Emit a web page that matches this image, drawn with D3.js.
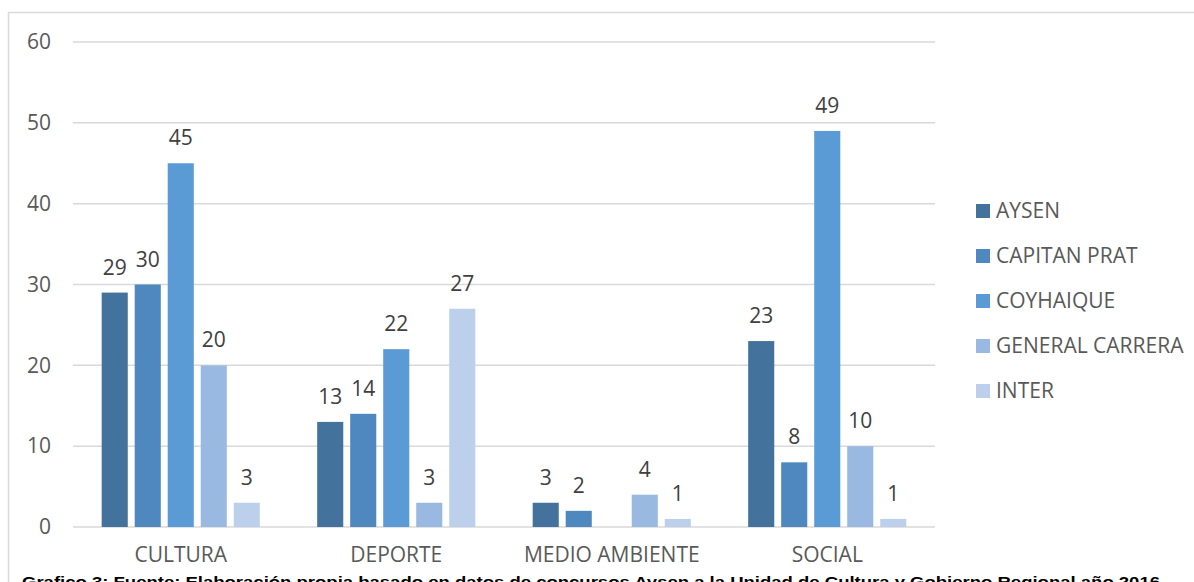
<!DOCTYPE html>
<html><head><meta charset="utf-8">
<script src="https://cdn.jsdelivr.net/npm/d3@7"></script>
<style>html,body{margin:0;padding:0;background:#fff;overflow:hidden}</style>
</head><body>
<svg id="c" width="1194" height="582"></svg>
<script>
const categories = ["CULTURA", "DEPORTE", "MEDIO AMBIENTE", "SOCIAL"];
const seriesNames = ["AYSEN", "CAPITAN PRAT", "COYHAIQUE", "GENERAL CARRERA", "INTER"];
const aysen = [29, 13, 3, 23];
const capitanPrat = [30, 14, 2, 8];
const coyhaique = [45, 22, 0, 49];
const generalCarrera = [20, 3, 4, 10];
const inter = [3, 27, 1, 1];
const yTicks = [0, 10, 20, 30, 40, 50, 60];
const caption = "Grafico 3: Fuente: Elaboración propia basado en datos de concursos Aysen a la Unidad de Cultura y Gobierno Regional año 2016";

const seriesValues = [aysen, capitanPrat, coyhaique, generalCarrera, inter];
const colors = ["#43729D", "#4E88BE", "#5B9BD5", "#9AB9E0", "#BDD0EB"];

const svg = d3.select("#c");
const font = "'Open Sans', sans-serif";
const fs = 21;

// border
svg.append("path").attr("d", "M8.5,582 V12.5 H1194").attr("fill", "none").attr("stroke", "#d9d9d9").attr("stroke-width", 1.5);

const x0 = d3.scaleBand().domain(categories).range([73, 935]).paddingInner(0.234).paddingOuter(0.117);
const x1 = d3.scaleBand().domain(seriesNames).range([0, x0.bandwidth()]).paddingInner(0.21).paddingOuter(0.105);
const y = d3.scaleLinear().domain([0, 60]).range([527, 42]);

// gridlines
svg.append("g").selectAll("line").data(yTicks).join("line")
  .attr("x1", 73).attr("x2", 935)
  .attr("y1", d => y(d)).attr("y2", d => y(d))
  .attr("stroke", "#d9d9d9").attr("stroke-width", 1.5);

// y axis labels
const yAxis = d3.axisLeft(y).tickValues(yTicks).tickSize(0).tickPadding(0);
const ya = svg.append("g").attr("transform", "translate(51,0)").call(yAxis);
ya.select(".domain").remove();
ya.selectAll("text").attr("font-family", font).attr("font-size", fs).attr("fill", "#595959");

// x axis labels
const xAxis = d3.axisBottom(x0).tickSize(0).tickPadding(0);
const xa = svg.append("g").attr("transform", "translate(0,547)").call(xAxis);
xa.select(".domain").remove();
xa.selectAll("text").attr("font-family", font).attr("font-size", fs).attr("fill", "#595959");

// bars
const data = [];
categories.forEach((c, i) => seriesNames.forEach((s, j) => data.push({c, s, v: seriesValues[j][i], j})));
const g = svg.append("g");
g.selectAll("rect").data(data.filter(d => d.v > 0)).join("rect")
  .attr("x", d => x0(d.c) + x1(d.s))
  .attr("width", x1.bandwidth())
  .attr("y", d => y(d.v))
  .attr("height", d => y(0) - y(d.v))
  .attr("fill", d => colors[d.j]);

g.selectAll("text").data(data.filter(d => d.v > 0)).join("text")
  .attr("x", d => x0(d.c) + x1(d.s) + x1.bandwidth() / 2)
  .attr("y", d => y(d.v) - 18)
  .attr("text-anchor", "middle")
  .attr("font-family", font).attr("font-size", fs).attr("fill", "#404040")
  .text(d => d.v);

// legend
const lg = svg.append("g").selectAll("g").data(seriesNames).join("g")
  .attr("transform", (d, i) => `translate(976,${211 + i * 45})`);
lg.append("rect").attr("x", 0).attr("y", -7).attr("width", 14).attr("height", 14).attr("fill", (d, i) => colors[i]);
lg.append("text").attr("x", 20).attr("y", 0).attr("dy", "0.35em")
  .attr("font-family", font).attr("font-size", fs).attr("fill", "#595959").text(d => d);

// caption (partly cut off at the bottom, as in the reference)
svg.append("text").attr("x", 22).attr("y", 587)
  .attr("font-family", "'Liberation Sans', Arial, sans-serif").attr("font-weight", "bold")
  .attr("font-size", 15).attr("fill", "#000")
  .attr("textLength", 1138).attr("lengthAdjust", "spacingAndGlyphs")
  .text(caption);
</script>
</body></html>
